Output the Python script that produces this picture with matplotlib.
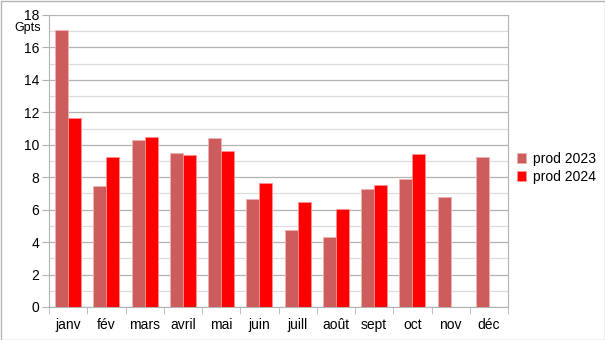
import matplotlib
matplotlib.use("Agg")
import matplotlib.pyplot as plt
import numpy as np
from matplotlib.patches import Rectangle

plt.rcParams['font.family'] = ['Liberation Sans', 'DejaVu Sans']

months = ["janv", "fév", "mars", "avril", "mai", "juin", "juill", "août", "sept", "oct", "nov", "déc"]
prod_2023 = [17.05, 7.47, 10.30, 9.50, 10.43, 6.67, 4.76, 4.31, 7.25, 7.86, 6.79, 9.22]
prod_2024 = [11.68, 9.22, 10.47, 9.40, 9.61, 7.64, 6.45, 6.03, 7.49, 9.44, None, None]
series_names = ["prod 2023", "prod 2024"]
colors = ["#cd5c5c", "#ff0000"]
y_ticks = list(range(0, 19, 2))

fig = plt.figure(figsize=(6.05, 3.4), dpi=100)
ax = fig.add_axes([49/605, 1 - 307/340, (508-49)/605, (307-15)/340])

x = np.arange(len(months))
w = 0.34
v24 = [np.nan if v is None else v for v in prod_2024]
b1 = ax.bar(x - w/2, prod_2023, w, color=colors[0], edgecolor="#f0b0b0", linewidth=0.6, label=series_names[0], zorder=3)
b2 = ax.bar(x + w/2, v24, w, color=colors[1], edgecolor="#ff9090", linewidth=0.6, label=series_names[1], zorder=3)

ax.set_xlim(-0.5, len(months) - 0.5)
ax.set_ylim(0, 18)
ax.set_yticks(y_ticks)
ax.set_yticks(range(1, 18, 2), minor=True)
ax.grid(axis='y', which='major', color='#b3b3b3', linewidth=0.9, zorder=0)
ax.grid(axis='y', which='minor', color='#dddddd', linewidth=0.9, zorder=0)
ax.set_xticks(x)
ax.set_xticklabels(months)
ax.tick_params(axis='x', which='major', length=0, pad=8, labelsize=10)
ax.set_xticks(np.arange(-0.5, len(months), 1), minor=True)
ax.tick_params(axis='x', which='minor', length=5, color='#b3b3b3', direction='out')
ax.tick_params(axis='y', which='major', length=5, color='#b3b3b3', labelsize=10, pad=2)
ax.tick_params(axis='y', which='minor', length=0)
for s in ax.spines.values():
    s.set_color('#b3b3b3')
ax.spines['top'].set_visible(False)
ax.spines['right'].set_visible(True)

fig.text(28/605, 1 - 28/340, "Gpts", ha='center', va='center', fontsize=9)

leg = fig.legend(handles=[b1, b2], labels=series_names, loc='center left',
                 bbox_to_anchor=(504/605, 1 - 168/340), frameon=False, fontsize=10,
                 handlelength=0.7, handleheight=0.7, handletextpad=0.5, labelspacing=0.3)

fig.patches.append(Rectangle((0.5/605, 0.5/340), 1 - 1/605, 1 - 1/340, transform=fig.transFigure,
                             fill=False, edgecolor='#b3b3b3', linewidth=1))

fig.savefig("out.png", dpi=100)
